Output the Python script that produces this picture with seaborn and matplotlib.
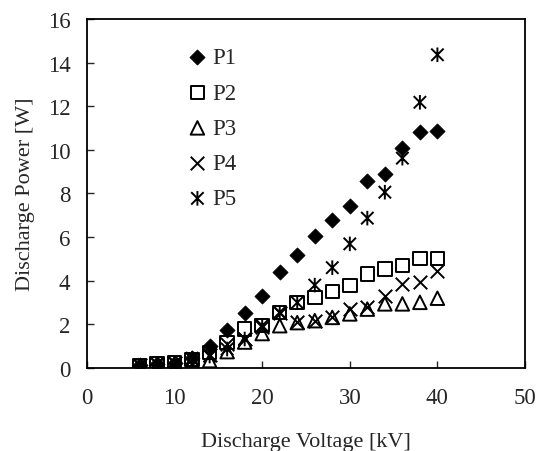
import matplotlib
matplotlib.use('Agg')
import matplotlib.pyplot as plt
import seaborn as sns
import numpy as np
from matplotlib.path import Path

voltage = [6, 8, 10, 12, 14, 16, 18, 20, 22, 24, 26, 28, 30, 32, 34, 36, 38, 40]
p1 = [0.15, 0.2, 0.22, 0.45, 1.02, 1.72, 2.5, 3.3, 4.4, 5.2, 6.03, 6.78, 7.42, 8.58, 8.9, 10.08, 10.8, 10.88]
p2 = [0.12, 0.2, 0.22, 0.38, 0.72, 1.18, 1.79, 1.94, 2.55, 3.0, 3.24, 3.5, 3.78, 4.31, 4.54, 4.69, 5.03, 5.03]
p3 = [0.08, 0.15, 0.18, 0.3, 0.34, 0.75, 1.19, 1.58, 1.94, 2.08, 2.17, 2.32, 2.48, 2.7, 2.94, 2.94, 3.01, 3.2]
p4 = [0.12, 0.2, 0.22, 0.4, 0.6, 1.1, 1.35, 1.9, 2.5, 2.1, 2.17, 2.35, 2.7, 2.78, 3.32, 3.85, 3.96, 4.46]
p5 = [0.12, 0.2, 0.22, 0.45, 0.55, 0.87, 1.33, 1.94, 2.55, 3.0, 3.8, 4.6, 5.69, 6.87, 8.06, 9.62, 12.18, 14.36]
labels = ['P1', 'P2', 'P3', 'P4', 'P5']

sns.set_style('ticks')
plt.rcParams['font.family'] = ['Liberation Serif', 'DejaVu Serif']

# asterisk: X with a vertical bar (Excel style)
star = Path([(0, -1), (0, 1), (-0.85, -0.85), (0.85, 0.85), (-0.85, 0.85), (0.85, -0.85)],
            [Path.MOVETO, Path.LINETO, Path.MOVETO, Path.LINETO, Path.MOVETO, Path.LINETO])

styles = [
    dict(marker='D', s=60, color='black', edgecolor='black', linewidth=0.5),
    dict(marker='s', s=95, color='none', edgecolor='black', linewidth=1.4),
    dict(marker='^', s=95, color='none', edgecolor='black', linewidth=1.4),
    dict(marker='x', s=95, color='black', linewidth=1.4),
    dict(marker=star, s=110, color='none', edgecolor='black', linewidth=1.4),
]

fig = plt.figure(figsize=(5.36, 4.52), dpi=100)
ax = fig.add_axes([0.1623, 0.1836, 0.8172, 0.7722])

for vals, lab, st in zip([p1, p2, p3, p4, p5], labels, styles):
    sns.scatterplot(x=voltage, y=vals, label=lab, ax=ax, **st)

ax.set_xlim(0, 50)
ax.set_ylim(0, 16)
ax.set_xticks(np.arange(0, 51, 10))
ax.set_yticks(np.arange(0, 17, 2))
ax.tick_params(direction='in', length=5, width=1, labelsize=16.5,
               top=False, right=False)
ax.tick_params(axis='y', pad=12)
ax.tick_params(axis='x', pad=14)
for sp in ax.spines.values():
    sp.set_linewidth(1.3)
    sp.set_color('black')

ax.set_xlabel('Discharge Voltage [kV]', fontsize=16, labelpad=17)
ax.set_ylabel('Discharge Power [W]', fontsize=16, labelpad=9)

ax.legend(loc='upper left', bbox_to_anchor=(0.205, 0.945), frameon=False,
          fontsize=16.5, handletextpad=0.15, labelspacing=0.62, handlelength=1.0,
          borderaxespad=0)

fig.savefig('out.png', dpi=100)
